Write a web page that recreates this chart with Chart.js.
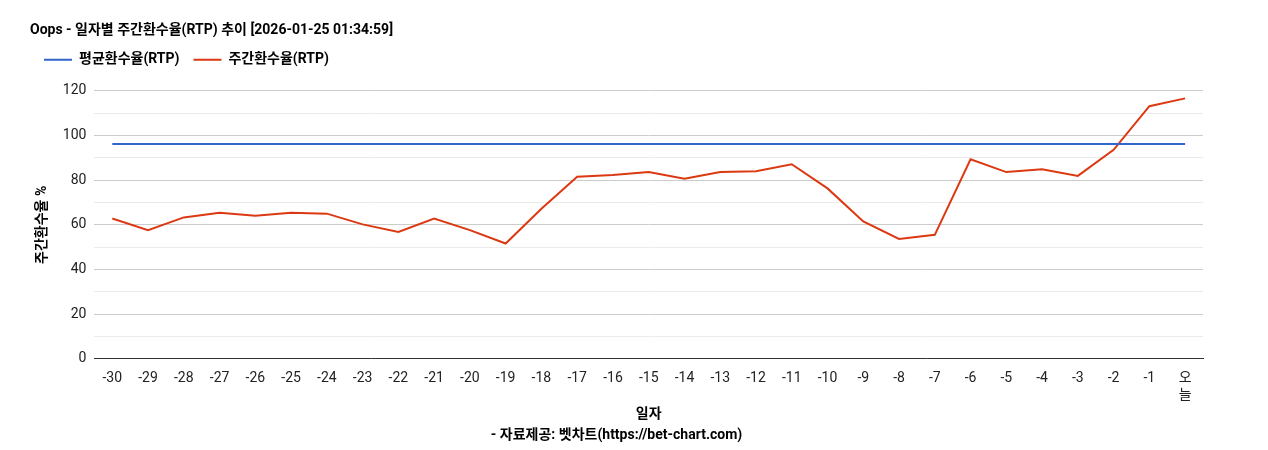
<!DOCTYPE html>
<html>
<head>
<meta charset="utf-8">
<script src="https://cdn.jsdelivr.net/npm/chart.js@4"></script>
<style>
  body { margin: 0; background: #fff; }
  #wrap { width: 1268px; height: 450px; }
</style>
</head>
<body>
<div id="wrap"><canvas id="rtpChart"></canvas></div>
<script>
const days = ['-30','-29','-28','-27','-26','-25','-24','-23','-22','-21','-20','-19','-18','-17','-16',
  '-15','-14','-13','-12','-11','-10','-9','-8','-7','-6','-5','-4','-3','-2','-1',['오','늘']];
const weeklyRtp = [62.8, 57.6, 63.3, 65.4, 64.1, 65.4, 65.0, 60.2, 56.8, 62.8, 57.6, 51.6, 67.2, 81.5, 82.3,
  83.6, 80.6, 83.6, 84.0, 87.1, 76.3, 61.5, 53.7, 55.5, 89.3, 83.6, 84.9, 81.9, 93.6, 113.1, 116.6];
const avgRtpValue = 96.2;
const avgRtp = days.map(() => avgRtpValue);

document.addEventListener("DOMContentLoaded", function() {
  const ctx = document.getElementById('rtpChart').getContext('2d');
  const font = 'Roboto, "Noto Sans CJK KR", sans-serif';
  Chart.defaults.font.family = font;
  Chart.defaults.color = '#222';

  new Chart(ctx, {
    type: 'line',
    data: {
      labels: days,
      datasets: [
        { label: '평균환수율(RTP)', data: avgRtp, borderColor: '#3366cc', borderWidth: 2, pointRadius: 0, tension: 0 },
        { label: '주간환수율(RTP)', data: weeklyRtp, borderColor: '#dc3912', borderWidth: 2, pointRadius: 0, tension: 0 }
      ]
    },
    options: {
      responsive: true,
      maintainAspectRatio: false,
      animation: false,
      layout: { padding: { left: 30, right: 65, top: 22, bottom: 6 } },
      plugins: {
        title: {
          display: true, text: 'Oops - 일자별 주간환수율(RTP) 추이 [2026-01-25 01:34:59]',
          align: 'start', color: '#000', font: { size: 14, weight: 'bold' }, padding: { top: 0, bottom: 0 }
        },
        subtitle: {
          display: true, position: 'bottom', text: '- 자료제공: 벳차트(https://bet-chart.com)',
          color: '#000', font: { size: 14, weight: 'bold' }, padding: { top: 0, bottom: 0 }
        },
        legend: {
          align: 'start',
          labels: {
            color: '#000', font: { size: 14, weight: 'bold' }, boxWidth: 28, boxHeight: 0, padding: 14,
            generateLabels: chart => chart.data.datasets.map((d, i) => ({
              text: d.label, strokeStyle: d.borderColor, fillStyle: d.borderColor, lineWidth: 2, datasetIndex: i
            }))
          }
        },
        tooltip: { enabled: false }
      },
      scales: {
        x: {
          offset: true,
          grid: { display: false },
          border: { color: '#333' },
          ticks: { color: '#222', font: { size: 14 }, maxRotation: 0, autoSkip: false },
          title: { display: true, text: '일자', color: '#000', font: { size: 14, weight: 'bold' }, padding: { top: 0, bottom: 4 } }
        },
        y: {
          min: 0, max: 120,
          border: { display: false },
          afterFit: s => { s.paddingTop = 0; },
          ticks: { stepSize: 10, color: '#222', font: { size: 14 }, padding: 8, callback: v => v % 20 === 0 ? v : '' },
          grid: { drawTicks: false, color: c => c.tick.value % 20 === 0 ? '#cccccc' : '#ebebeb' },
          title: { display: true, text: '주간환수율 %', color: '#000', font: { size: 14, weight: 'bold' } }
        }
      }
    },
    plugins: [{
      id: 'legendGap',
      beforeInit(chart) {
        const fit = chart.legend.fit;
        chart.legend.fit = function() { fit.bind(chart.legend)(); this.height += 14; };
      }
    }]
  });
});
</script>
</body>
</html>
